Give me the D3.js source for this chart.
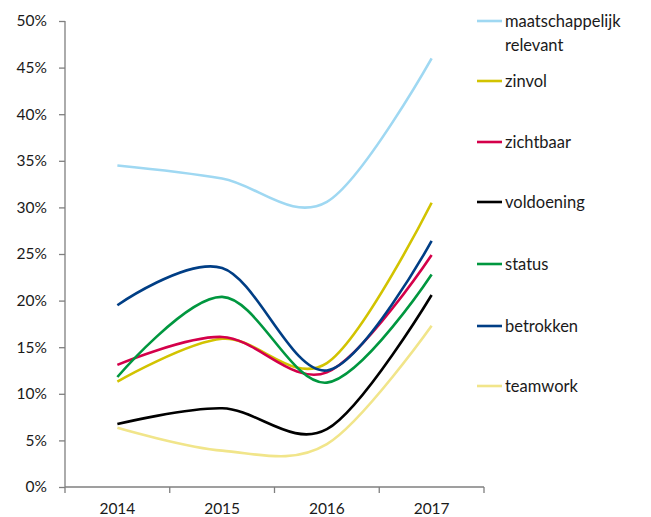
<!DOCTYPE html>
<html><head><meta charset="utf-8">
<script src="https://cdn.jsdelivr.net/npm/d3@7"></script>
<style>body{margin:0;background:#fff}svg{display:block}text{font-family:Lato,"Noto Sans",sans-serif;fill:#1a1a1a}</style>
</head><body><svg id="c" width="651" height="517"></svg>
<script>
const years = ["2014","2015","2016","2017"];
const yTicks = [0,0.05,0.10,0.15,0.20,0.25,0.30,0.35,0.40,0.45,0.50];
const seriesNames = ["maatschappelijk relevant","zinvol","zichtbaar","voldoening","status","betrokken","teamwork"];
const maatschappelijk = [0.345,0.331,0.306,0.460];
const zinvol = [0.113,0.159,0.133,0.305];
const zichtbaar = [0.131,0.161,0.123,0.249];
const voldoening = [0.0675,0.0845,0.062,0.206];
const status = [0.118,0.204,0.112,0.228];
const betrokken = [0.195,0.235,0.125,0.264];
const teamwork = [0.0635,0.039,0.046,0.173];
const colors = ["#9fd8f2","#d2c300","#d4004a","#000000","#00973f","#003e85","#f1e58a"];
const values = [maatschappelijk,zinvol,zichtbaar,voldoening,status,betrokken,teamwork];

const svg = d3.select("#c");
const x = d3.scaleBand().domain(years).range([65,484]);
const y = d3.scaleLinear().domain([0,0.5]).range([487,21]);

// y axis
const ya = svg.append("g").attr("transform","translate(65,0)")
  .call(d3.axisLeft(y).tickValues(yTicks).tickFormat(d3.format(".0%")).tickSize(6).tickPadding(12));
ya.select(".domain").attr("stroke","#7f7f7f").attr("stroke-width",1.3).attr("d","M0,21V487");
ya.selectAll(".tick line").attr("stroke","#7f7f7f").attr("stroke-width",1.3);
ya.selectAll(".tick text").attr("font-size",15.5).attr("fill","#1a1a1a").style("font-family","Lato, sans-serif");

// x axis
const xa = svg.append("g").attr("transform","translate(0,487)")
  .call(d3.axisBottom(x).tickSize(0).tickPadding(16));
xa.select(".domain").attr("stroke","#7f7f7f").attr("stroke-width",1.3).attr("d","M65,0H484");
xa.selectAll(".tick text").attr("font-size",15.5).attr("fill","#1a1a1a").style("font-family","Lato, sans-serif");
const edges = years.map(d=>x(d)).concat([x(years[years.length-1])+x.bandwidth()]);
svg.append("g").selectAll("line").data(edges).join("line")
  .attr("x1",d=>d).attr("x2",d=>d).attr("y1",487).attr("y2",493)
  .attr("stroke","#7f7f7f").attr("stroke-width",1.3);

const line = d3.line().x((d,i)=>x(years[i])+x.bandwidth()/2).y(d=>y(d)).curve(d3.curveCatmullRom.alpha(0));
svg.append("g").selectAll("path").data(values).join("path")
  .attr("d",d=>line(d)).attr("fill","none").attr("stroke",(d,i)=>colors[i]).attr("stroke-width",2.6);

// legend
const legY = [21,81,142,202,264,326,386];
const lg = svg.append("g").selectAll("g").data(seriesNames).join("g")
  .attr("transform",(d,i)=>`translate(477,${legY[i]})`);
lg.append("line").attr("x1",0).attr("x2",25).attr("stroke",(d,i)=>colors[i]).attr("stroke-width",2.6);
lg.each(function(d){
  const t = d3.select(this).append("text").attr("x",28).attr("y",5.5).attr("font-size",16.5);
  d.split(" ").forEach((w,j)=>t.append("tspan").attr("x",28).attr("dy",j?24:0).text(w));
});
</script></body></html>
